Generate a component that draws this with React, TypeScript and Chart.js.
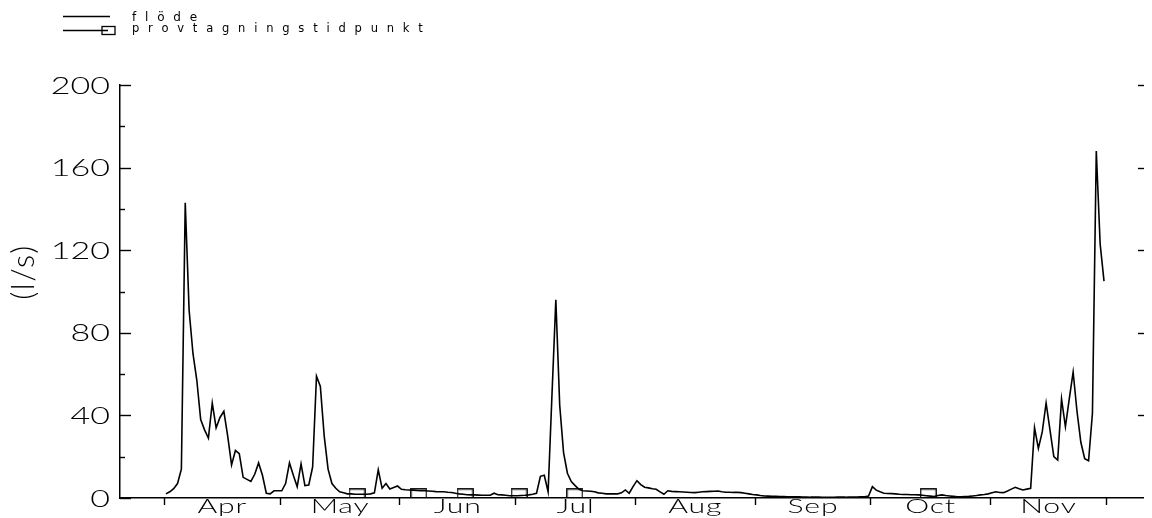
import React, { useEffect, useRef } from "react";
import { Chart, registerables } from "chart.js";

Chart.register(...registerables);

// ---- data ----
const monthNames = ["Apr", "May", "Jun", "Jul", "Aug", "Sep", "Oct", "Nov"];
// day offsets (from 1 April) where each month starts; last one = 1 December
const monthStartDays = [0, 30, 61, 91, 122, 153, 183, 214, 244];
const yMajorTicks = [0, 40, 80, 120, 160, 200];
const yMinorTicks = [20, 60, 100, 140, 180];
const yAxisTitle = "(l/s)";
const legendLabels = ["flöde", "provtagningstidpunkt"];

// daily flow (l/s), first value is the 1 April value
const flowFirstDay = 0.5;
const flowValues = [
  2, 3, 4.5, 7, 14, 143, 91, 70, 57, 38,
  33, 29, 46, 34, 39, 42, 30, 16, 23, 21.5,
  10, 9, 8, 11.5, 17, 11, 2.3, 2, 3.5, 3.5,
  3.5, 7, 17, 11, 5.5, 16.5, 6, 6.3, 15, 59,
  54, 30, 14, 7, 4.7, 3, 2.5, 2, 2, 1.8,
  1.8, 1.8, 1.8, 2, 2.5, 13.6, 4.7, 7, 4.4, 5.1,
  5.8, 4.2, 4, 3.9, 3.8, 3.6, 3.5, 3.5, 3.4, 3.3,
  3.1, 3, 3, 2.8, 2.7, 2.3, 2, 1.8, 1.6, 1.5,
  1.5, 1.4, 1.3, 1.3, 1.3, 2.3, 1.6, 1.5, 1.3, 1.1,
  1.1, 1.1, 1.2, 1.3, 1.5, 1.8, 2.3, 10.5, 11, 3,
  50, 96, 45, 22, 12, 8, 6, 4.2, 3.5, 3.4,
  3.3, 3, 2.5, 2.3, 2, 2, 2, 2, 2.5, 3.9,
  2.3, 5.5, 8.4, 6.5, 5.2, 4.9, 4.5, 4.2, 3, 1.8,
  3.5, 3.2, 3.1, 3, 2.9, 2.8, 2.7, 2.6, 2.8, 3,
  3.1, 3.2, 3.3, 3.4, 3, 2.8, 2.8, 2.7, 2.7, 2.6,
  2.3, 2, 1.7, 1.5, 1.2, 1, 0.9, 0.8, 0.8, 0.7,
  0.7, 0.6, 0.6, 0.6, 0.6, 0.5, 0.5, 0.4, 0.4, 0.4,
  0.3, 0.3, 0.3, 0.3, 0.4, 0.4, 0.4, 0.5, 0.5, 0.5,
  0.6, 0.6, 1, 5.5, 3.8, 3, 2.3, 2.2, 2.1, 2,
  1.8, 1.7, 1.7, 1.6, 1.6, 1.5, 1.3, 1.1, 0.9, 0.7,
  1.2, 1.5, 1.2, 1, 0.8, 0.6, 0.6, 0.7, 0.8, 1,
  1.2, 1.5, 1.7, 2, 2.5, 3, 2.7, 2.6, 3.4, 4.3,
  5.2, 4.5, 3.9, 4.3, 4.7, 34, 24, 32, 46, 33,
  20, 18.4, 48, 34.5, 48, 61, 42, 27, 19, 18,
  41, 168, 123, 105,
];

// sampling times (day offset from 1 April) and the flow level they are marked at
const sampleDays = [50, 66, 78, 92, 106.4, 198];
const sampleValues = [2, 2, 2, 2, 2, 2];

const FONT = '"DejaVu Sans", sans-serif';
const LIGHT = 'Lato, "DejaVu Sans", sans-serif';

function makeBox(w: number, h: number): HTMLCanvasElement {
  const c = document.createElement("canvas");
  c.width = w;
  c.height = h;
  const g = c.getContext("2d")!;
  g.strokeStyle = "#000";
  g.lineWidth = 1.3;
  g.strokeRect(0.75, 0.75, w - 1.5, h - 1.5);
  return c;
}

function stretchedText(
  ctx: CanvasRenderingContext2D,
  text: string,
  x: number,
  y: number,
  size: number,
  sx: number,
  spacing: number,
  align: CanvasTextAlign
) {
  ctx.save();
  ctx.font = `300 ${size}px ${LIGHT}`;
  (ctx as any).letterSpacing = `${spacing}px`;
  ctx.textAlign = align;
  ctx.textBaseline = "alphabetic";
  let shift = 0;
  if (align === "right") shift = spacing * sx;
  else if (align === "center") shift = (spacing * sx) / 2;
  ctx.translate(x + shift, y);
  ctx.scale(sx, 1);
  ctx.fillText(text, 0, 0);
  ctx.restore();
}

const decorPlugin = {
  id: "decor",
  afterDraw(chart: any) {
    const { ctx, chartArea: ca } = chart;
    const xs = chart.scales.x;
    const ys = chart.scales.y;
    ctx.save();
    ctx.strokeStyle = "#000";
    ctx.fillStyle = "#000";
    ctx.lineWidth = 1.4;
    const seg = (x1: number, y1: number, x2: number, y2: number) => {
      ctx.beginPath();
      ctx.moveTo(x1, y1);
      ctx.lineTo(x2, y2);
      ctx.stroke();
    };
    // left inward ticks
    for (const v of yMajorTicks) {
      const py = Math.round(ys.getPixelForValue(v)) + 0.5;
      seg(ca.left, py, ca.left + 11, py);
    }
    for (const v of yMinorTicks) {
      const py = Math.round(ys.getPixelForValue(v)) + 0.5;
      seg(ca.left, py, ca.left + 5, py);
    }
    // right-hand dashes
    for (const v of yMajorTicks) {
      if (v === 0) continue;
      const py = Math.round(ys.getPixelForValue(v)) + 0.5;
      seg(ca.right - 5, py, ca.right + 1, py);
    }
    // month boundary ticks
    for (const d of monthStartDays) {
      const px = Math.round(xs.getPixelForValue(d)) + 0.5;
      seg(px, ca.bottom, px, ca.bottom + 7);
    }
    // y tick labels
    for (const v of yMajorTicks) {
      const py = ys.getPixelForValue(v);
      stretchedText(ctx, String(v), ca.left - 10, py + 8.5, 23.5, 1.45, 0, "right");
    }
    // month labels
    for (let k = 0; k < monthNames.length; k++) {
      const mid = (monthStartDays[k] + monthStartDays[k + 1]) / 2;
      const px = xs.getPixelForValue(mid);
      stretchedText(ctx, monthNames[k], px, ca.bottom + 15, 19.5, 1.55, 0.5, "center");
    }
    // y axis title
    ctx.save();
    ctx.translate(34, 272);
    ctx.rotate(-Math.PI / 2);
    ctx.font = `300 31px ${LIGHT}`;
    (ctx as any).letterSpacing = "1.5px";
    ctx.textAlign = "center";
    ctx.textBaseline = "alphabetic";
    ctx.fillText(yAxisTitle, 0, 0);
    ctx.restore();
    // legend
    ctx.lineWidth = 1.3;
    seg(63, 16.5, 110, 16.5);
    seg(63, 30.5, 108, 30.5);
    ctx.strokeRect(102, 26.5, 13, 8);
    ctx.save();
    (ctx as any).letterSpacing = "8.8px";
    ctx.textAlign = "left";
    ctx.textBaseline = "alphabetic";
    ctx.font = `12px ${FONT}`;
    ctx.fillText(legendLabels[0], 132, 21);
    ctx.font = `11.5px ${FONT}`;
    ctx.fillText(legendLabels[1], 132, 32);
    ctx.restore();
    ctx.restore();
  },
};

export default function App() {
  const ref = useRef<HTMLCanvasElement | null>(null);
  useEffect(() => {
    if (!ref.current) return;
    const box = makeBox(17, 11);
    const chart = new Chart(ref.current, {
      type: "line",
      data: {
        datasets: [
          {
            label: legendLabels[0],
            data: flowValues.map((v, i) => ({ x: flowFirstDay + i, y: v })),
            borderColor: "#000",
            borderWidth: 1.6,
            pointRadius: 0,
            tension: 0,
            fill: false,
          },
          {
            label: legendLabels[1],
            data: sampleDays.map((d, i) => ({ x: d, y: sampleValues[i] })),
            showLine: false,
            pointStyle: box as any,
            pointRadius: 8,
            borderColor: "#000",
            backgroundColor: "transparent",
          },
        ],
      },
      options: {
        responsive: false,
        animation: false,
        events: [],
        layout: { padding: { left: 0, top: 85, right: 9, bottom: 0 } },
        plugins: { legend: { display: false }, tooltip: { enabled: false } },
        scales: {
          x: {
            type: "linear",
            min: -11.4,
            max: 253.6,
            grid: { display: false },
            border: { display: true, color: "#000", width: 1.5 },
            ticks: { display: false },
            afterFit: (s: any) => {
              s.height = 20;
            },
          },
          y: {
            min: 0,
            max: 200,
            grid: { display: false },
            border: { display: true, color: "#000", width: 1.5 },
            ticks: { display: false, stepSize: 40 },
            afterFit: (s: any) => {
              s.width = 120;
            },
          },
        },
      },
      plugins: [decorPlugin],
    });
    return () => chart.destroy();
  }, []);
  return (
    <div style={{ position: "absolute", left: 0, top: 0, width: 1152, height: 518, background: "#fff" }}>
      <canvas ref={ref} width={1152} height={518} style={{ display: "block" }} />
    </div>
  );
}
